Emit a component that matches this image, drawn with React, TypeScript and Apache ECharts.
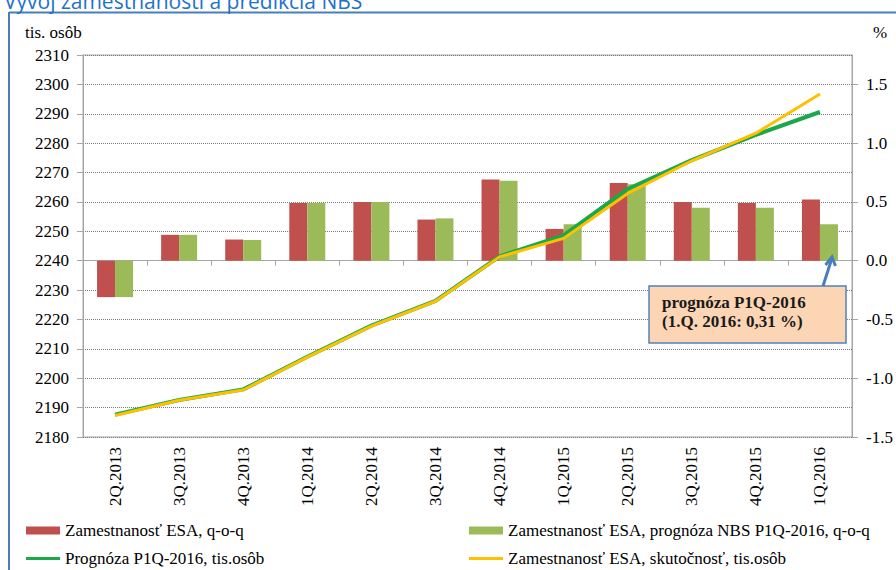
import React, { useEffect, useRef } from "react";
import * as echarts from "echarts";

const categories = ["2Q.2013", "3Q.2013", "4Q.2013", "1Q.2014", "2Q.2014", "3Q.2014", "4Q.2014", "1Q.2015", "2Q.2015", "3Q.2015", "4Q.2015", "1Q.2016"];
const qoqActual = [-0.31, 0.22, 0.18, 0.49, 0.5, 0.35, 0.69, 0.27, 0.66, 0.5, 0.49, 0.52];
const qoqForecast = [-0.31, 0.22, 0.175, 0.49, 0.5, 0.36, 0.68, 0.31, 0.65, 0.45, 0.45, 0.31];
const levelForecast = [2187.6, 2192.6, 2196.2, 2207.3, 2217.9, 2226.3, 2241.5, 2248.6, 2264.4, 2274.2, 2282.8, 2290.6];
const levelActual = [2187.3, 2192.5, 2196.0, 2207.2, 2217.7, 2226.2, 2241.3, 2247.6, 2262.9, 2274.0, 2283.4, 2296.7];

const names = [
  "Zamestnanosť ESA, q-o-q",
  "Zamestnanosť ESA, prognóza NBS P1Q-2016, q-o-q",
  "Prognóza P1Q-2016, tis.osôb",
  "Zamestnanosť ESA, skutočnosť, tis.osôb",
];

const SERIF = '"Liberation Serif", "Times New Roman", serif';

export default function App() {
  const ref = useRef<HTMLDivElement>(null);
  useEffect(() => {
    document.body.style.margin = "0";
    if (!ref.current) return;
    const chart = echarts.init(ref.current, null, { renderer: "svg" });
    const legendBase = {
      icon: "rect",
      itemWidth: 34,
      padding: 0,
      textStyle: { fontFamily: SERIF, fontSize: 17, color: "#000" },
      selectedMode: false,
    };
    chart.setOption({
      animation: false,
      backgroundColor: "#fff",
      grid: { left: 83, right: 44, top: 55, bottom: 133, show: true, borderColor: "#a6a6a6", borderWidth: 1 },
      legend: [
        { ...legendBase, data: [names[0]], left: 26, top: 522, itemHeight: 8 },
        { ...legendBase, data: [names[1]], left: 469, top: 522, itemHeight: 8 },
        { ...legendBase, data: [names[2]], left: 26, top: 550, itemHeight: 3 },
        { ...legendBase, data: [names[3]], left: 469, top: 550, itemHeight: 3 },
      ],
      xAxis: {
        type: "category",
        data: categories,
        boundaryGap: true,
        axisLine: { lineStyle: { color: "#a6a6a6" } },
        axisTick: { show: true, length: 5, lineStyle: { color: "#a6a6a6" } },
        axisLabel: { rotate: 90, margin: 10, fontFamily: SERIF, fontSize: 17, color: "#000" },
      },
      yAxis: [
        {
          type: "value",
          min: 2180,
          max: 2310,
          interval: 10,
          axisLine: { show: true, lineStyle: { color: "#a6a6a6" } },
          axisTick: { show: true, length: 6, lineStyle: { color: "#a6a6a6" } },
          axisLabel: {
            margin: 14,
            fontFamily: SERIF,
            fontSize: 17,
            color: "#000",
            formatter: (v: number) => String(Math.round(v)),
          },
          splitLine: { show: true, lineStyle: { color: "#7a7a7a", type: "dotted", width: 1 } },
        },
        {
          type: "value",
          min: -1.5,
          max: 1.75,
          interval: 0.5,
          axisLine: { show: true, lineStyle: { color: "#a6a6a6" } },
          axisTick: { show: true, length: 6, lineStyle: { color: "#a6a6a6" } },
          axisLabel: {
            margin: 14,
            fontFamily: SERIF,
            fontSize: 17,
            color: "#000",
            showMaxLabel: false,
            formatter: (v: number) => (v > 1.6 ? "" : v.toFixed(1)),
          },
          splitLine: { show: false },
        },
      ],
      series: [
        {
          name: names[0],
          type: "bar",
          yAxisIndex: 1,
          data: qoqActual,
          barWidth: 18,
          barGap: "0%",
          itemStyle: { color: "#c0504d" },
        },
        {
          name: names[1],
          type: "bar",
          yAxisIndex: 1,
          data: qoqForecast,
          barWidth: 18,
          barGap: "0%",
          itemStyle: { color: "#9bbb59" },
        },
        {
          name: names[2],
          type: "line",
          yAxisIndex: 0,
          data: levelForecast,
          showSymbol: false,
          symbol: "none",
          itemStyle: { color: "#1aa84a" },
          lineStyle: { color: "#1aa84a", width: 4 },
        },
        {
          name: names[3],
          type: "line",
          yAxisIndex: 0,
          data: levelActual,
          showSymbol: false,
          symbol: "none",
          itemStyle: { color: "#ffc000" },
          lineStyle: { color: "#ffc000", width: 3 },
        },
      ],
      graphic: [
        { type: "line", shape: { x1: 9, y1: 12.5, x2: 896, y2: 12.5 }, style: { stroke: "#4a7ebb", lineWidth: 2 } },
        { type: "line", shape: { x1: 9, y1: 12, x2: 9, y2: 570 }, style: { stroke: "#4a7ebb", lineWidth: 2 } },
        {
          type: "text",
          x: 4,
          y: 11,
          style: {
            text: "Vývoj zamestnanosti a predikcia NBS",
            font: '21px "Open Sans", "Noto Sans", sans-serif',
            fill: "#1f72c9",
            verticalAlign: "bottom",
          },
        },
        {
          type: "text",
          x: 25,
          y: 32,
          style: { text: "tis. osôb", font: `17px ${SERIF}`, fill: "#000", verticalAlign: "middle" },
        },
        {
          type: "text",
          x: 873,
          y: 32,
          style: { text: "%", font: `17px ${SERIF}`, fill: "#000", verticalAlign: "middle" },
        },
        {
          type: "rect",
          shape: { x: 649, y: 286, width: 197, height: 57 },
          style: { fill: "#fcd5b5", stroke: "#4f81bd", lineWidth: 1.5 },
          z: 100,
        },
        {
          type: "text",
          x: 662,
          y: 302,
          style: { text: "prognóza P1Q-2016", font: `bold 17px ${SERIF}`, fill: "#1a1a1a", verticalAlign: "middle" },
          z: 101,
        },
        {
          type: "text",
          x: 662,
          y: 321,
          style: { text: "(1.Q. 2016: 0,31 %)", font: `bold 17px ${SERIF}`, fill: "#1a1a1a", verticalAlign: "middle" },
          z: 101,
        },
        {
          type: "line",
          shape: { x1: 823, y1: 286, x2: 832, y2: 258 },
          style: { stroke: "#4a7ebb", lineWidth: 3 },
          z: 100,
        },
        {
          type: "polyline",
          shape: { points: [[825.5, 265], [832, 257], [835.5, 266]] },
          style: { stroke: "#4a7ebb", lineWidth: 3, fill: "none" },
          z: 100,
        },
      ],
    });
    return () => chart.dispose();
  }, []);
  return <div ref={ref} style={{ width: 896, height: 570 }} />;
}
